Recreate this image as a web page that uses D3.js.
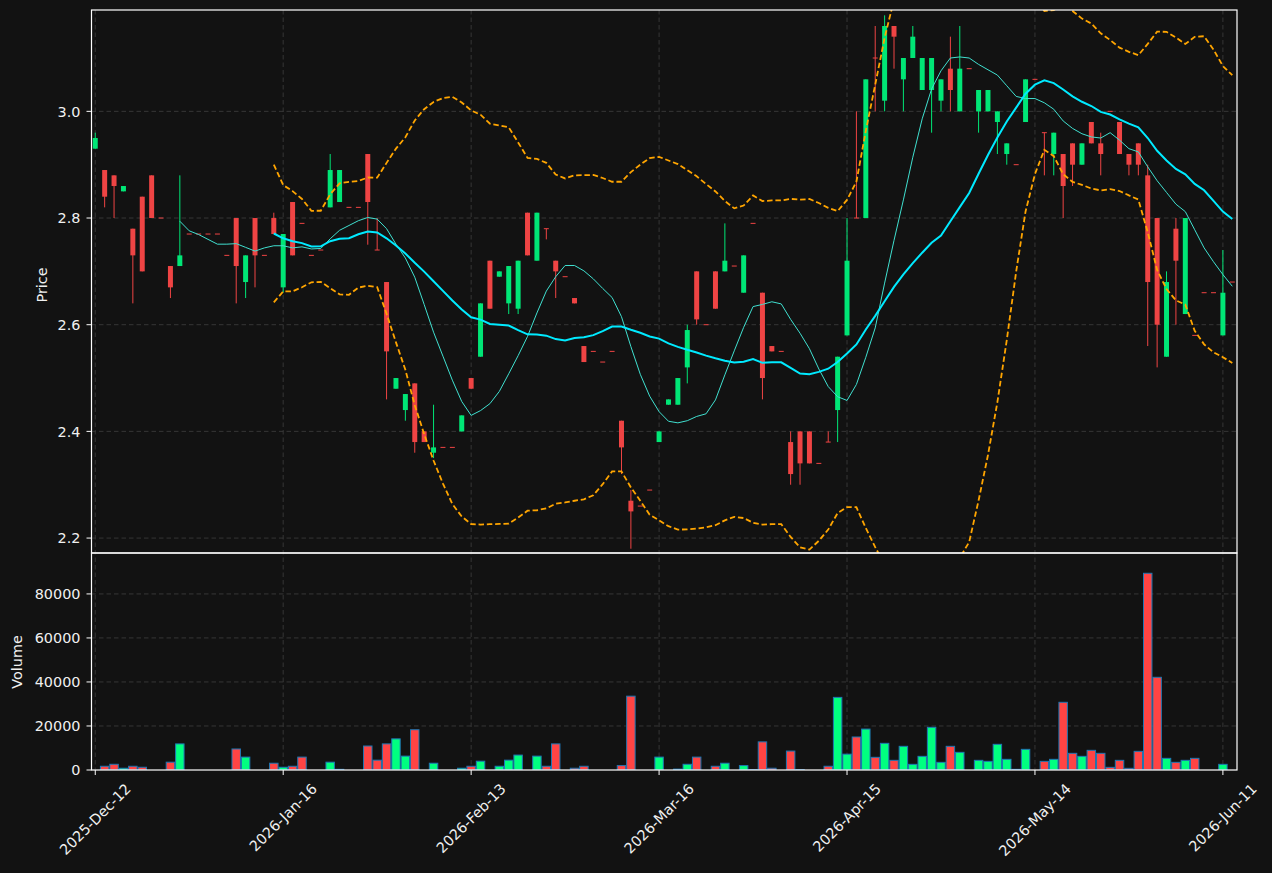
<!DOCTYPE html>
<html>
<head>
<meta charset="utf-8">
<script src="https://cdn.jsdelivr.net/npm/d3@7"></script>
<style>
  body { margin: 0; background: #121212; }
  svg text { font-family: "DejaVu Sans", sans-serif; }
</style>
</head>
<body>
<svg id="chart" width="1272" height="873"></svg>
<script>
// tick labels on the bar index axis
const tickIdx = [0, 20, 40, 60, 80, 100, 120];
const tickLabels = ["2025-Dec-12", "2026-Jan-16", "2026-Feb-13", "2026-Mar-16", "2026-Apr-15", "2026-May-14", "2026-Jun-11"];
const priceTicks = [2.2, 2.4, 2.6, 2.8, 3.0];
const volumeTicks = [0, 20000, 40000, 60000, 80000];

// daily bars, one entry per trading row
const opens = [
  2.93, 2.89, 2.88, 2.85, 2.78, 2.84, 2.88, 2.80, 2.71, 2.71,
  2.77, 2.77, 2.77, 2.77, 2.73, 2.80, 2.68, 2.80, 2.73, 2.80,
  2.67, 2.83, 2.79, 2.73, 2.74, 2.82, 2.83, 2.82, 2.82, 2.92,
  2.74, 2.68, 2.48, 2.44, 2.49, 2.40, 2.36, 2.37, 2.37, 2.40,
  2.50, 2.54, 2.72, 2.69, 2.64, 2.63, 2.81, 2.72, 2.78, 2.72,
  2.69, 2.65, 2.56, 2.55, 2.53, 2.55, 2.42, 2.27, 2.26, 2.29,
  2.38, 2.45, 2.45, 2.52, 2.70, 2.60, 2.70, 2.70, 2.71, 2.66,
  2.79, 2.66, 2.56, 2.55, 2.38, 2.40, 2.40, 2.34, 2.38, 2.44,
  2.58, 2.80, 2.80, 3.10, 3.02, 3.16, 3.06, 3.10, 3.04, 3.04,
  3.02, 3.08, 3.00, 3.08, 3.00, 3.00, 2.98, 2.92, 2.90, 2.98,
  3.06, 2.96, 2.92, 2.92, 2.94, 2.90, 2.98, 2.94, 3.00, 2.98,
  2.92, 2.94, 2.88, 2.80, 2.54, 2.78, 2.62, 2.58, 2.66, 2.66,
  2.58, 2.68
];
const highs = [
  2.96, 2.89, 2.88, 2.86, 2.78, 2.84, 2.88, 2.80, 2.71, 2.88,
  2.77, 2.77, 2.77, 2.77, 2.73, 2.80, 2.73, 2.80, 2.73, 2.81,
  2.77, 2.83, 2.79, 2.73, 2.74, 2.92, 2.89, 2.82, 2.82, 2.92,
  2.80, 2.68, 2.50, 2.47, 2.49, 2.40, 2.45, 2.37, 2.37, 2.43,
  2.50, 2.64, 2.72, 2.70, 2.71, 2.72, 2.81, 2.81, 2.78, 2.72,
  2.69, 2.65, 2.56, 2.55, 2.53, 2.55, 2.42, 2.29, 2.26, 2.29,
  2.40, 2.46, 2.50, 2.60, 2.70, 2.60, 2.70, 2.79, 2.71, 2.73,
  2.79, 2.66, 2.56, 2.55, 2.40, 2.40, 2.40, 2.34, 2.40, 2.54,
  2.80, 3.00, 3.06, 3.16, 3.18, 3.16, 3.10, 3.16, 3.10, 3.10,
  3.06, 3.14, 3.16, 3.08, 3.04, 3.04, 3.00, 2.94, 2.90, 3.06,
  3.06, 2.96, 2.96, 2.92, 2.94, 2.94, 2.98, 2.96, 3.00, 2.98,
  2.92, 2.94, 2.90, 2.80, 2.70, 2.80, 2.80, 2.58, 2.66, 2.66,
  2.74, 2.68
];
const lows = [
  2.93, 2.82, 2.80, 2.85, 2.64, 2.70, 2.80, 2.80, 2.65, 2.71,
  2.77, 2.77, 2.77, 2.77, 2.73, 2.64, 2.65, 2.67, 2.73, 2.77,
  2.66, 2.73, 2.79, 2.73, 2.74, 2.82, 2.83, 2.82, 2.82, 2.75,
  2.74, 2.46, 2.48, 2.42, 2.36, 2.38, 2.35, 2.37, 2.37, 2.40,
  2.48, 2.54, 2.63, 2.69, 2.62, 2.62, 2.73, 2.72, 2.76, 2.65,
  2.69, 2.64, 2.53, 2.55, 2.53, 2.55, 2.32, 2.18, 2.26, 2.29,
  2.38, 2.45, 2.45, 2.49, 2.60, 2.60, 2.63, 2.70, 2.71, 2.66,
  2.79, 2.46, 2.55, 2.55, 2.30, 2.30, 2.34, 2.34, 2.38, 2.38,
  2.58, 2.80, 2.80, 3.00, 3.00, 3.08, 3.00, 3.10, 3.04, 2.96,
  3.00, 3.00, 3.00, 3.08, 2.96, 3.00, 2.92, 2.90, 2.90, 2.98,
  3.06, 2.88, 2.88, 2.80, 2.86, 2.90, 2.94, 2.88, 3.00, 2.92,
  2.88, 2.88, 2.56, 2.52, 2.54, 2.60, 2.62, 2.58, 2.66, 2.66,
  2.58, 2.68
];
const closes = [
  2.95, 2.84, 2.86, 2.86, 2.73, 2.70, 2.80, 2.80, 2.67, 2.73,
  2.77, 2.77, 2.77, 2.77, 2.73, 2.71, 2.73, 2.73, 2.73, 2.77,
  2.77, 2.73, 2.79, 2.73, 2.74, 2.89, 2.89, 2.82, 2.82, 2.83,
  2.74, 2.55, 2.50, 2.47, 2.38, 2.38, 2.37, 2.37, 2.37, 2.43,
  2.48, 2.64, 2.63, 2.70, 2.71, 2.72, 2.73, 2.81, 2.78, 2.70,
  2.69, 2.64, 2.53, 2.55, 2.53, 2.55, 2.37, 2.25, 2.26, 2.29,
  2.40, 2.46, 2.50, 2.59, 2.61, 2.60, 2.63, 2.72, 2.71, 2.73,
  2.79, 2.50, 2.55, 2.55, 2.32, 2.34, 2.34, 2.34, 2.38, 2.54,
  2.72, 2.80, 3.06, 3.10, 3.16, 3.14, 3.10, 3.14, 3.10, 3.10,
  3.06, 3.04, 3.08, 3.08, 3.04, 3.04, 3.00, 2.94, 2.90, 3.06,
  3.06, 2.96, 2.96, 2.86, 2.90, 2.94, 2.94, 2.92, 3.00, 2.92,
  2.90, 2.90, 2.68, 2.60, 2.68, 2.72, 2.80, 2.58, 2.66, 2.66,
  2.66, 2.68
];
const volumes = [
  0, 1700, 2600, 800, 1700, 1250, 0, 0, 3550, 11860,
  0, 0, 0, 0, 0, 9550, 5860, 0, 0, 3080,
  1250, 1700, 5860, 0, 0, 3550, 300, 0, 0, 10900,
  4470, 11860, 14150, 6300, 18300, 0, 3080, 0, 0, 800,
  1700, 4000, 0, 1700, 4470, 6780, 0, 6300, 1700, 11860,
  0, 800, 1700, 0, 0, 0, 2000, 33550, 0, 0,
  5860, 0, 400, 2600, 5860, 0, 1700, 3080, 0, 2000,
  200, 12780, 800, 0, 8600, 200, 0, 0, 1700, 33000,
  7200, 15000, 18600, 5760, 12120, 4390, 10760, 2580, 6210, 19390,
  3480, 10760, 8030, 0, 4390, 3940, 11670, 4850, 300, 9390,
  0, 3940, 4850, 30760, 7580, 6210, 8940, 7580, 1210, 4390,
  760, 8480, 89390, 42120, 5300, 3480, 4390, 5300, 0, 0,
  2580, 0
];

const W = 1272, H = 873;
const left = 91.5, right = 1237;
const priceTop = 10, priceBottom = 553, volBottom = 770;
const bg = "#121212";
const upColor = "#00e676", downColor = "#ef4444";
const volUp = "#00ff80", volDown = "#ff4444";
const gridColor = "#3a3a3a";
const textColor = "#f0f0f0";

const svg = d3.select("#chart");
svg.append("rect").attr("width", W).attr("height", H).attr("fill", bg);

const x = d3.scaleLinear().domain([-0.4, 121.5]).range([left, right]);
const yP = d3.scaleLinear().domain([2.172, 3.19]).range([priceBottom, priceTop]);
const yV = d3.scaleLinear().domain([0, 98600]).range([volBottom, priceBottom]);
const step = x(1) - x(0);

const defs = svg.append("defs");
defs.append("clipPath").attr("id", "clipPrice")
  .append("rect").attr("x", left).attr("y", priceTop)
  .attr("width", right - left).attr("height", priceBottom - priceTop);
defs.append("clipPath").attr("id", "clipVol")
  .append("rect").attr("x", left).attr("y", priceBottom)
  .attr("width", right - left).attr("height", volBottom - priceBottom);

// grid
const grid = svg.append("g").attr("stroke", gridColor).attr("stroke-width", 0.9)
  .attr("stroke-dasharray", "4.5,3");
grid.selectAll(".vgrid").data(tickIdx).enter().append("line")
  .attr("x1", d => x(d)).attr("x2", d => x(d))
  .attr("y1", priceTop).attr("y2", volBottom);
grid.selectAll(".pgrid").data(priceTicks).enter().append("line")
  .attr("x1", left).attr("x2", right)
  .attr("y1", d => yP(d)).attr("y2", d => yP(d));
grid.selectAll(".vlgrid").data(volumeTicks.slice(1)).enter().append("line")
  .attr("x1", left).attr("x2", right)
  .attr("y1", d => yV(d)).attr("y2", d => yV(d));

const idx = d3.range(closes.length);
const isUp = i => closes[i] > opens[i];

// candles
const candles = svg.append("g").attr("clip-path", "url(#clipPrice)");
candles.selectAll(".wick").data(idx.filter(i => highs[i] > lows[i])).enter().append("line")
  .attr("x1", i => x(i)).attr("x2", i => x(i))
  .attr("y1", i => yP(highs[i])).attr("y2", i => yP(lows[i]))
  .attr("stroke", i => isUp(i) ? upColor : downColor)
  .attr("stroke-width", 1);
const bw = step * 0.53;
candles.selectAll(".body").data(idx).enter().append("rect")
  .attr("x", i => x(i) - bw / 2)
  .attr("width", bw)
  .attr("y", i => {
    const top = yP(Math.max(opens[i], closes[i]));
    const h = Math.abs(yP(opens[i]) - yP(closes[i]));
    return h < 1 ? top - 0.5 : top;
  })
  .attr("height", i => Math.max(1, Math.abs(yP(opens[i]) - yP(closes[i]))))
  .attr("fill", i => isUp(i) ? upColor : downColor);

// rolling stats on closes
function rollMean(arr, n) {
  return arr.map((_, i) => i < n - 1 ? null : d3.mean(arr.slice(i - n + 1, i + 1)));
}
function rollStd(arr, n) {
  return arr.map((_, i) => {
    if (i < n - 1) return null;
    const w = arr.slice(i - n + 1, i + 1);
    const m = d3.mean(w);
    return Math.sqrt(d3.mean(w.map(v => (v - m) * (v - m))));
  });
}
const ma10 = rollMean(closes, 10);
const ma20 = rollMean(closes, 20);
const sd20 = rollStd(closes, 20);
const upper = ma20.map((m, i) => m == null ? null : m + 2 * sd20[i]);
const lower = ma20.map((m, i) => m == null ? null : m - 2 * sd20[i]);

const line = d3.line()
  .defined(d => d != null)
  .x((d, i) => x(i))
  .y(d => yP(d));

const lines = svg.append("g").attr("clip-path", "url(#clipPrice)").attr("fill", "none");
lines.append("path").attr("d", line(ma10)).attr("stroke", "#40e0d0").attr("stroke-width", 1);
lines.append("path").attr("d", line(ma20)).attr("stroke", "#00eaff").attr("stroke-width", 2);
lines.append("path").attr("d", line(upper)).attr("stroke", "#ffa500")
  .attr("stroke-width", 1.8).attr("stroke-dasharray", "5.5,2.8");
lines.append("path").attr("d", line(lower)).attr("stroke", "#ffa500")
  .attr("stroke-width", 1.8).attr("stroke-dasharray", "5.5,2.8");

// volume
const vw = step * 0.9;
svg.append("g").attr("clip-path", "url(#clipVol)")
  .selectAll("rect").data(idx.filter(i => volumes[i] > 0)).enter().append("rect")
  .attr("x", i => x(i) - vw / 2)
  .attr("width", vw)
  .attr("y", i => yV(volumes[i]))
  .attr("height", i => volBottom - yV(volumes[i]))
  .attr("fill", i => isUp(i) ? volUp : volDown)
  .attr("stroke", "#1f77b4")
  .attr("stroke-width", 1);

// frames
const frame = svg.append("g").attr("fill", "none").attr("stroke", "#ffffff").attr("stroke-width", 1.2);
frame.append("rect").attr("x", left).attr("y", priceTop).attr("width", right - left).attr("height", priceBottom - priceTop);
frame.append("rect").attr("x", left).attr("y", priceBottom).attr("width", right - left).attr("height", volBottom - priceBottom);

// y axes
const axisText = svg.append("g").attr("fill", textColor).attr("font-size", 14.4);
const tickMarks = svg.append("g").attr("stroke", "#ffffff").attr("stroke-width", 1);
priceTicks.forEach(v => {
  tickMarks.append("line").attr("x1", left - 5).attr("x2", left).attr("y1", yP(v)).attr("y2", yP(v));
  axisText.append("text").attr("x", left - 11).attr("y", yP(v)).attr("dy", "0.36em")
    .attr("text-anchor", "end").text(d3.format(".1f")(v));
});
volumeTicks.forEach(v => {
  tickMarks.append("line").attr("x1", left - 5).attr("x2", left).attr("y1", yV(v)).attr("y2", yV(v));
  axisText.append("text").attr("x", left - 11).attr("y", yV(v)).attr("dy", "0.36em")
    .attr("text-anchor", "end").text(v);
});
axisText.append("text").attr("transform", "translate(47,285) rotate(-90)")
  .attr("text-anchor", "middle").text("Price");
axisText.append("text").attr("transform", "translate(22,662) rotate(-90)")
  .attr("text-anchor", "middle").text("Volume");

// x axis, rotated labels centred under ticks
tickIdx.forEach((t, k) => {
  tickMarks.append("line").attr("x1", x(t)).attr("x2", x(t)).attr("y1", volBottom).attr("y2", volBottom + 5);
  const txt = axisText.append("text").attr("text-anchor", "middle")
    .attr("dominant-baseline", "central").text(tickLabels[k]);
  const len = txt.node().getComputedTextLength();
  const half = (len + 15) * Math.SQRT1_2 / 2;
  txt.attr("transform", `translate(${x(t)},${781 + half}) rotate(-45)`);
});
</script>
</body>
</html>
